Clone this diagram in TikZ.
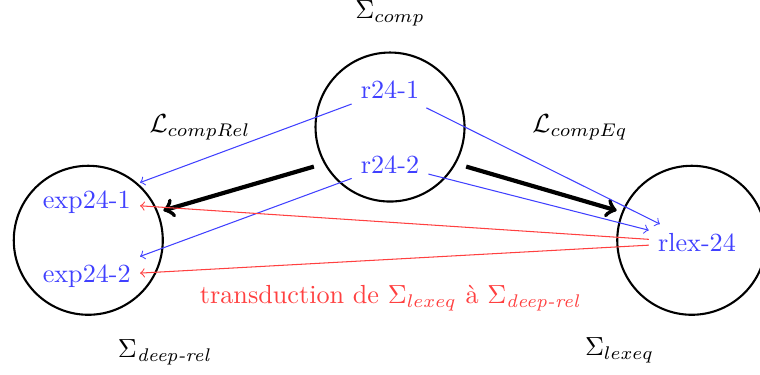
\documentclass[tikz,border=0pt]{standalone}
\usepackage{fontspec}
\usepackage{amsmath, amssymb}
\usepackage{xcolor}
\usepackage{tikz}
\definecolor{lexblue}{RGB}{64, 64, 255}
\definecolor{transred}{RGB}{255, 64, 64}
\tikzset{
	sigcircle/.style={circle, draw=black, thick, minimum size=2cm, inner sep=0pt},
	lexnode/.style={text=lexblue},
	linkarrow/.style={->, lexblue},
	transarrow/.style={->, transred},
	bigarrow/.style={->, black, ultra thick, shorten <=4pt, shorten >=2pt}
}

\begin{document}
\begin{tikzpicture}
			\def\dx{4.05}
			\def\dy{1.52}

			\useasboundingbox (-5.235, -3.315) rectangle (4.966, 1.705);

			% the three signatures
			\node[sigcircle] (comp) at (0, 0) {};
			\node[sigcircle] (deep) at (-\dx, -\dy) {};
			\node[sigcircle] (lexeq) at (\dx, -\dy) {};

			\node (compname) at (0, 1.53) {$\Sigma_{comp}$};
			\node (deepname) at (-\dx+1.02, -\dy-1.5) {$\Sigma_{\textit{deep-rel}}$};
			\node (lexeqname) at (\dx-0.97, -\dy-1.48) {$\Sigma_{lexeq}$};

			% lexical entries
			\node[lexnode] (r1) at (0, 0.5) {r24-1};
			\node[lexnode] (r2) at (0, -0.5) {r24-2};
			\node[lexnode] (e1) at (-\dx-0.02, -\dy+0.51) {exp24-1};
			\node[lexnode] (e2) at (-\dx-0.02, -\dy-0.48) {exp24-2};
			\node[lexnode] (rl) at (\dx+0.07, -\dy-0.03) {rlex-24};

			% lexicons
			\draw[bigarrow] (comp.209) -- (deep.22);
			\draw[bigarrow] (comp.331) -- (lexeq.158);
			\node (relname) at (-2.55, 0) {$\mathcal{L}_{compRel}$};
			\node (eqname) at (2.55, 0) {$\mathcal{L}_{compEq}$};

			\draw[linkarrow] (r1) -- (e1);
			\draw[linkarrow] (r2) -- (e2);
			\draw[linkarrow] (r1) -- (rl);
			\draw[linkarrow] (r2) -- (rl);

			\draw[transarrow] (rl) -- (e1);
			\draw[transarrow] (rl) -- (e2);

			\node[text=transred] (transname) at (0, -2.3) {transduction de $\Sigma_{lexeq}$ à $\Sigma_{\textit{deep-rel}}$};

		\end{tikzpicture}
\end{document}
